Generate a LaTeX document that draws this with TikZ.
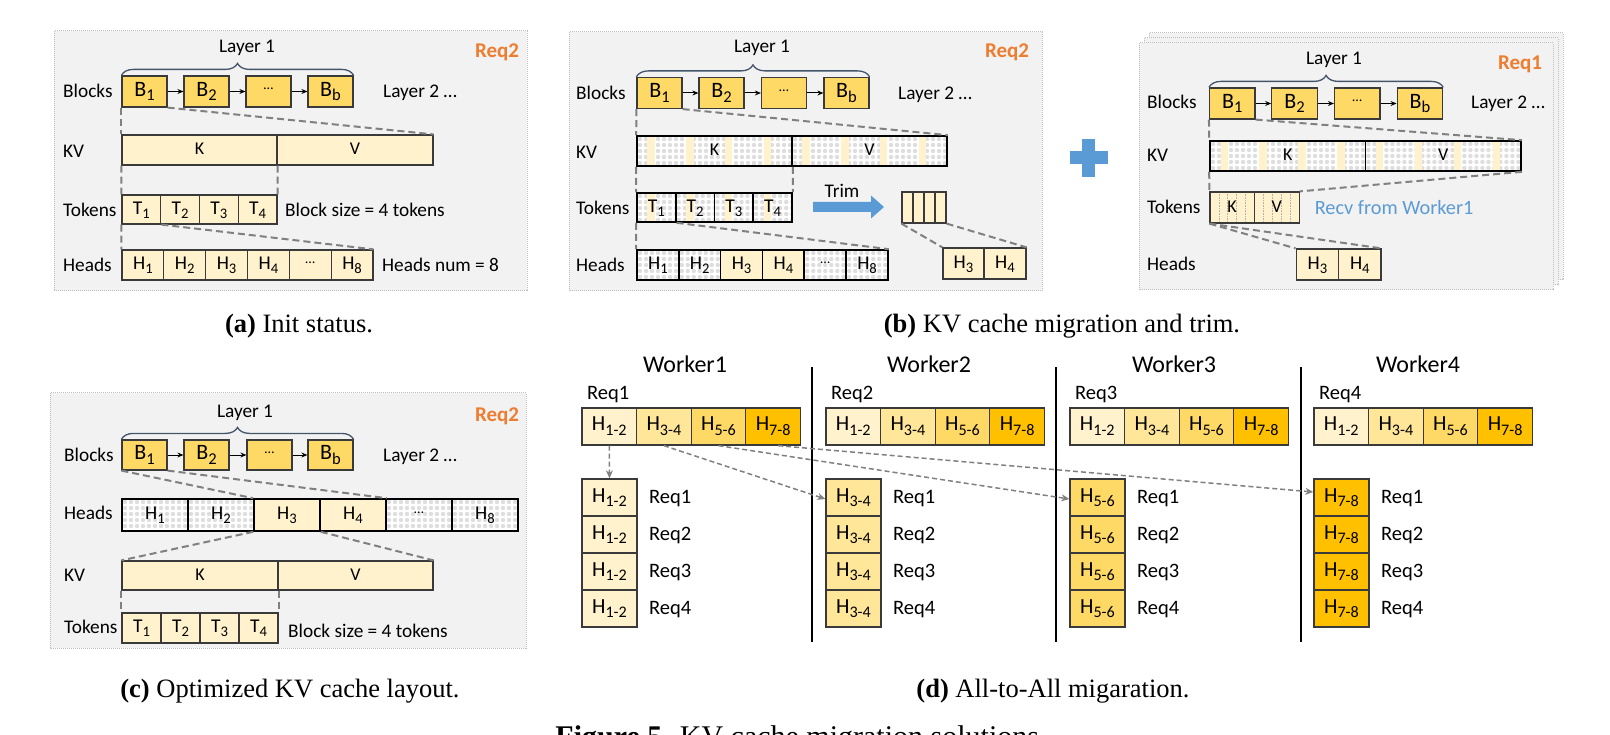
\documentclass[tikz,border=0pt]{standalone}
\usepackage{fontspec}
\setmainfont{Carlito}
\newfontfamily\capfont{Liberation Serif}
\usetikzlibrary{calc,decorations.pathreplacing,arrows.meta}
\definecolor{cpanel}{HTML}{F2F2F2}
\definecolor{cpanelln}{HTML}{BFBFBF}
\definecolor{cgold}{HTML}{FFD966}
\definecolor{clite}{HTML}{FFF2CC}
\definecolor{cmid}{HTML}{FFE699}
\definecolor{cdeep}{HTML}{FFC000}
\definecolor{ccellln}{HTML}{3A3A3A}
\definecolor{cdot}{HTML}{DEDEDE}
\definecolor{cdash}{HTML}{808080}
\definecolor{corange}{HTML}{ED7D31}
\definecolor{cbrace}{HTML}{44546A}
\definecolor{cblue}{HTML}{5B9BD5}
\newcommand\fL{\fontsize{19.3}{21}\selectfont}
\newcommand\fBk{\fontsize{22}{24}\selectfont}
\newcommand\fCl{\fontsize{19.5}{21}\selectfont}
\newcommand\fKV{\fontsize{18}{20}\selectfont}
\newcommand\fRq{\fontsize{21}{23}\selectfont\bfseries}
\newcommand\fWk{\fontsize{24}{26}\selectfont}
\newcommand\fDd{\fontsize{20.5}{22}\selectfont}
\newcommand\fDc{\fontsize{21.5}{23}\selectfont}
\newcommand\fCap{\capfont\fontsize{26.5}{30}\selectfont}
\newcommand\fFig{\capfont\fontsize{30}{34}\selectfont}
\makeatletter
\newcommand\sbx[1]{\raisebox{-0.2em}{\@tempdima=\f@size pt\@tempdima=0.75\@tempdima\fontsize{\strip@pt\@tempdima}{\strip@pt\@tempdima}\selectfont #1}}
\makeatother
\newcommand\dts{\raisebox{0.3em}{\fontsize{14}{15}\selectfont …}}
\begin{document}
\begin{tikzpicture}[x=1pt,y=-1pt,
  panel/.style={fill=cpanel,draw=cpanelln,densely dotted,line width=1pt},
  lbl/.style={anchor=west,inner sep=0pt,font=\fL,text height=0.644em,text depth=0pt,yshift=-3pt},
  toplbl/.style={inner sep=0pt,font=\fL,text height=0.644em,text depth=0pt,yshift=-3pt},
  reqlbl/.style={inner sep=0pt,font=\fRq,text=corange,text height=0.644em,text depth=0pt,yshift=-3pt},
  cellbase/.style={draw=ccellln,line width=1.2pt,inner sep=0pt,text height=0.95em,text depth=0pt,font=\fCl},
  goldcell/.style={cellbase,fill=cgold,font=\fBk,minimum width=45pt,minimum height=31pt},
  litecell/.style={cellbase,fill=clite},
  blkcell/.style={cellbase,draw=black,line width=1.6pt},
  patdots/.style={blkcell,fill=white,path picture={
    \foreach \i in {0,...,#1}{\foreach \j in {0,...,5}{
      \fill[cdot] ($(path picture bounding box.north west)+({3+\i*6},{3+\j*6})$) circle (2.2);}}}},
  patstripe/.style n args={3}{blkcell,fill=white,path picture={
    \foreach \i in {0,...,#1}{\foreach \j in {0,...,5}{
      \fill[cdot] ($(path picture bounding box.north west)+({3+\i*6},{3+\j*6})$) circle (2.2);}}
    \foreach \s in {1,...,#2}{
      \fill[clite] ($(path picture bounding box.north west)+({(\s-1)*#3+0.27*#3},0)$) rectangle ++({0.19*#3},40);}}},
  vlines/.style={path picture={\foreach \f in {0.2,0.4,0.6,0.8}{
      \draw[black!30,line width=0.6pt,densely dotted] ($(path picture bounding box.north west)!\f!(path picture bounding box.north east)$) -- ++(0,40);}}},
  conn/.style={draw=cdash,line width=2pt,dash pattern=on 7pt off 4pt},
  blkarrow/.style={draw=black,line width=1pt,-{Stealth[length=6pt,width=5pt]}},
  bracedeco/.style={draw=cbrace,line width=1.3pt,decorate,decoration={brace,amplitude=12pt}},
  darrow/.style={draw=cdash,line width=1.5pt,dash pattern=on 5pt off 3pt,-{Stealth[length=8pt,width=7pt]}},
  dcell/.style={draw=ccellln,line width=1.3pt,inner sep=0pt,font=\fDc,text height=0.9em,text depth=0pt,minimum height=37pt},
  dlbl/.style={anchor=west,inner sep=0pt,font=\fDd,text height=0.644em,text depth=0pt,yshift=-3pt},
  wlbl/.style={inner sep=0pt,font=\fWk,text height=0.644em,text depth=0pt,yshift=-3pt},
  caplbl/.style={anchor=base,inner sep=0pt,font=\fCap}
]
\useasboundingbox (0,0) rectangle (1610,735);

%%%%%%%%%%%%%%%% (a)
\draw[panel] (54,31) rectangle (527,291);
\node[reqlbl] (aReq) at (497,51) {Req2};
\node[toplbl] (aL1) at (247,46) {Layer 1};
\node[lbl] (aLb) at (63,91) {Blocks};
\node[goldcell] (aB1) at (144.5,91.5) {B\sbx{1}};
\node[goldcell] (aB2) at (206.5,91.5) {B\sbx{2}};
\node[goldcell] (aB3) at (268.5,91.5) {\dts};
\node[goldcell] (aB4) at (330.5,91.5) {B\sbx{b}};
\draw[blkarrow] (aB1) -- (aB2);
\draw[blkarrow] (aB2) -- (aB3);
\draw[blkarrow] (aB3) -- (aB4);
\draw[bracedeco] (aB1.north west) -- (aB4.north east);
\node[lbl] (aL2) at (383,91) {Layer 2 …};
\node[lbl] (aLkv) at (63,151) {KV};
\node[litecell,font=\fKV,minimum width=155pt,minimum height=30pt] (aK) at (199.5,150) {K};
\node[litecell,font=\fKV,minimum width=156pt,minimum height=30pt] (aV) at (355,150) {V};
\node[lbl] (aLt) at (63,210) {Tokens};
\node[litecell,minimum width=38.75pt,minimum height=29pt] (aT1) at (141.4,209.5) {T\sbx{1}};
\node[litecell,minimum width=38.75pt,minimum height=29pt] (aT2) at (180.1,209.5) {T\sbx{2}};
\node[litecell,minimum width=38.75pt,minimum height=29pt] (aT3) at (218.9,209.5) {T\sbx{3}};
\node[litecell,minimum width=38.75pt,minimum height=29pt] (aT4) at (257.6,209.5) {T\sbx{4}};
\node[lbl] (aBs) at (285,210) {Block size = 4 tokens};
\node[lbl] (aLh) at (63,265) {Heads};
\node[litecell,minimum width=41.83pt,minimum height=30pt] (aH1) at (142.9,265) {H\sbx{1}};
\node[litecell,minimum width=41.83pt,minimum height=30pt] (aH2) at (184.7,265) {H\sbx{2}};
\node[litecell,minimum width=41.83pt,minimum height=30pt] (aH3) at (226.6,265) {H\sbx{3}};
\node[litecell,minimum width=41.83pt,minimum height=30pt] (aH4) at (268.4,265) {H\sbx{4}};
\node[litecell,minimum width=41.83pt,minimum height=30pt] (aH5) at (310.2,265) {\dts};
\node[litecell,minimum width=41.83pt,minimum height=30pt] (aH6) at (352.1,265) {H\sbx{8}};
\node[lbl] (aHn) at (382,265) {Heads num = 8};
\draw[conn] (aB1.south west) -- (aK.north west);
\draw[conn] (aB1.south east) -- (aV.north east);
\draw[conn] (aK.south west) -- (aT1.north west);
\draw[conn] (aK.south east) -- (aT4.north east);
\draw[conn] (aT1.south west) -- (aH1.north west);
\draw[conn] (aT1.south east) -- (aH6.north east);

%%%%%%%%%%%%%%%% (b) left
\draw[panel] (569,32) rectangle (1042,291);
\node[reqlbl] (bReq) at (1007,51) {Req2};
\node[toplbl] (bL1) at (762,46) {Layer 1};
\node[lbl] (bLb) at (576,93) {Blocks};
\node[goldcell] (bB1) at (659.5,93) {B\sbx{1}};
\node[goldcell] (bB2) at (721.5,93) {B\sbx{2}};
\node[goldcell] (bB3) at (784,93) {\dts};
\node[goldcell] (bB4) at (846.5,93) {B\sbx{b}};
\draw[blkarrow] (bB1) -- (bB2);
\draw[blkarrow] (bB2) -- (bB3);
\draw[blkarrow] (bB3) -- (bB4);
\draw[bracedeco] (bB1.north west) -- (bB4.north east);
\node[lbl] (bL2) at (898,93) {Layer 2 …};
\node[lbl] (bLkv) at (576,152) {KV};
\node[patstripe={26}{4}{38.75},font=\fKV,minimum width=155pt,minimum height=30pt] (bK) at (714.5,151) {K};
\node[patstripe={26}{4}{38.75},font=\fKV,minimum width=155pt,minimum height=30pt] (bV) at (869.5,151) {V};
\node[lbl] (bLt) at (576,208) {Tokens};
\node[patstripe={7}{1}{38.75},minimum width=38.75pt,minimum height=29pt] (bT1) at (656.4,207.5) {T\sbx{1}};
\node[patstripe={7}{1}{38.75},minimum width=38.75pt,minimum height=29pt] (bT2) at (695.1,207.5) {T\sbx{2}};
\node[patstripe={7}{1}{38.75},minimum width=38.75pt,minimum height=29pt] (bT3) at (733.9,207.5) {T\sbx{3}};
\node[patstripe={7}{1}{38.75},minimum width=38.75pt,minimum height=29pt] (bT4) at (772.6,207.5) {T\sbx{4}};
\node[toplbl] (bTrim) at (842,191) {Trim};
\fill[cblue] (813,202) -- (871,202) -- (871,195.5) -- (884,207) -- (871,218.5) -- (871,212) -- (813,212) -- cycle;
\node[litecell,minimum width=11pt,minimum height=31pt] (bM1) at (907.5,207.5) {};
\node[litecell,minimum width=11pt,minimum height=31pt] (bM2) at (918.5,207.5) {};
\node[litecell,minimum width=11pt,minimum height=31pt] (bM3) at (929.5,207.5) {};
\node[litecell,minimum width=11pt,minimum height=31pt] (bM4) at (940.5,207.5) {};
\node[lbl] (bLh) at (576,265) {Heads};
\node[patdots=7,minimum width=41.83pt,minimum height=30pt] (bH1) at (657.9,265) {H\sbx{1}};
\node[patdots=7,minimum width=41.83pt,minimum height=30pt] (bH2) at (699.7,265) {H\sbx{2}};
\node[blkcell,fill=clite,minimum width=41.83pt,minimum height=30pt] (bH3) at (741.6,265) {H\sbx{3}};
\node[blkcell,fill=clite,minimum width=41.83pt,minimum height=30pt] (bH4) at (783.4,265) {H\sbx{4}};
\node[patdots=7,minimum width=41.83pt,minimum height=30pt] (bH5) at (825.2,265) {\dts};
\node[patdots=7,minimum width=41.83pt,minimum height=30pt] (bH6) at (867.1,265) {H\sbx{8}};
\node[litecell,minimum width=41pt,minimum height=31pt] (bs3) at (963.5,263.5) {H\sbx{3}};
\node[litecell,minimum width=42pt,minimum height=31pt] (bs4) at (1005,263.5) {H\sbx{4}};
\draw[conn] (bB1.south west) -- (bK.north west);
\draw[conn] (bB1.south east) -- (bV.north east);
\draw[conn] (bK.south west) -- (bT1.north west);
\draw[conn] (bK.south east) -- (bT4.north east);
\draw[conn] (bT1.south west) -- (bH1.north west);
\draw[conn] (bT1.south east) -- (bH6.north east);
\draw[conn] (bM1.south west) -- (bs3.north west);
\draw[conn] (bM4.south east) -- (bs4.north east);

%%%%%%%%%%%%%%%% plus
\fill[cblue] (1070,151.5) rectangle (1108,164.5);
\fill[cblue] (1082.4,139) rectangle (1095.4,177);

%%%%%%%%%%%%%%%% (b) right
\draw[panel] (1149,33) rectangle (1563,280);
\draw[panel] (1144,38) rectangle (1558,285);
\draw[panel] (1139,43) rectangle (1553,290);
\node[reqlbl] (rReq) at (1520,63) {Req1};
\node[toplbl] (rL1) at (1334,58) {Layer 1};
\node[lbl] (rLb) at (1147,102) {Blocks};
\node[goldcell,minimum width=45.5pt] (rB1) at (1232.3,103.5) {B\sbx{1}};
\node[goldcell,minimum width=45.5pt] (rB2) at (1294.5,103.5) {B\sbx{2}};
\node[goldcell,minimum width=45.5pt] (rB3) at (1357.3,103.5) {\dts};
\node[goldcell,minimum width=45.5pt] (rB4) at (1419.9,103.5) {B\sbx{b}};
\draw[blkarrow] (rB1) -- (rB2);
\draw[blkarrow] (rB2) -- (rB3);
\draw[blkarrow] (rB3) -- (rB4);
\draw[bracedeco] (rB1.north west) -- (rB4.north east);
\node[lbl] (rL2) at (1471,102) {Layer 2 …};
\node[lbl] (rLkv) at (1147,155) {KV};
\node[patstripe={26}{4}{38.9},font=\fKV,minimum width=155.4pt,minimum height=30pt] (rK) at (1287.7,156) {K};
\node[patstripe={26}{4}{38.9},font=\fKV,minimum width=155.8pt,minimum height=30pt] (rV) at (1443.3,156) {V};
\node[lbl] (rLt) at (1147,207) {Tokens};
\node[litecell,vlines,font=\fKV,minimum width=44.3pt,minimum height=31pt] (rTK) at (1232.1,207.5) {K};
\node[litecell,vlines,font=\fKV,minimum width=44.8pt,minimum height=31pt] (rTV) at (1276.7,207.5) {V};
\node[lbl,text=cblue,font=\fontsize{20.3}{22}\selectfont] (rRecv) at (1314.6,208) {Recv from Worker1};
\node[lbl] (rLh) at (1147,264) {Heads};
\node[litecell,minimum width=42.4pt,minimum height=31pt] (rH3) at (1317.4,264.5) {H\sbx{3}};
\node[litecell,minimum width=42.3pt,minimum height=31pt] (rH4) at (1359.8,264.5) {H\sbx{4}};
\draw[conn] (rB1.south west) -- (rK.north west);
\draw[conn] (rB1.south east) -- (rV.north east);
\draw[conn] (rK.south west) -- (rTK.north west);
\draw[conn] (rV.south east) -- (rTV.north east);
\draw[conn] (rTK.south west) -- (rH3.north west);
\draw[conn] (rTK.south west) -- (rH4.north east);

%%%%%%%%%%%%%%%% (c)
\draw[panel] (50,393) rectangle (526,648);
\node[reqlbl] (cReq) at (497,415) {Req2};
\node[toplbl] (cL1) at (245,411) {Layer 1};
\node[lbl] (cLb) at (64,455) {Blocks};
\node[goldcell,minimum height=30pt] (cB1) at (144.5,455) {B\sbx{1}};
\node[goldcell,minimum height=30pt] (cB2) at (206.5,455) {B\sbx{2}};
\node[goldcell,minimum height=30pt] (cB3) at (269.5,455) {\dts};
\node[goldcell,minimum height=30pt] (cB4) at (330.5,455) {B\sbx{b}};
\draw[blkarrow] (cB1) -- (cB2);
\draw[blkarrow] (cB2) -- (cB3);
\draw[blkarrow] (cB3) -- (cB4);
\draw[bracedeco] (cB1.north west) -- (cB4.north east);
\node[lbl] (cL2) at (383,455) {Layer 2 …};
\node[lbl] (cLh) at (64,513) {Heads};
\node[patdots=11,minimum width=66pt,minimum height=32pt] (cH1) at (155,515) {H\sbx{1}};
\node[patdots=11,minimum width=66pt,minimum height=32pt] (cH2) at (221,515) {H\sbx{2}};
\node[blkcell,fill=clite,minimum width=66pt,minimum height=32pt] (cH3) at (287,515) {H\sbx{3}};
\node[blkcell,fill=clite,minimum width=66pt,minimum height=32pt] (cH4) at (353,515) {H\sbx{4}};
\node[patdots=11,minimum width=66pt,minimum height=32pt] (cH5) at (419,515) {\dts};
\node[patdots=11,minimum width=66pt,minimum height=32pt] (cH6) at (485,515) {H\sbx{8}};
\node[lbl] (cLkv) at (64,575) {KV};
\node[litecell,font=\fKV,minimum width=156pt,minimum height=29pt] (cK) at (200,575.5) {K};
\node[litecell,font=\fKV,minimum width=155pt,minimum height=29pt] (cV) at (355.5,575.5) {V};
\node[lbl] (cLt) at (64,627) {Tokens};
\node[litecell,minimum width=39pt,minimum height=30pt] (cT1) at (141.5,628) {T\sbx{1}};
\node[litecell,minimum width=39pt,minimum height=30pt] (cT2) at (180.5,628) {T\sbx{2}};
\node[litecell,minimum width=39pt,minimum height=30pt] (cT3) at (219.5,628) {T\sbx{3}};
\node[litecell,minimum width=39pt,minimum height=30pt] (cT4) at (258.5,628) {T\sbx{4}};
\node[lbl] (cBs) at (288,631) {Block size = 4 tokens};
\draw[conn] (cB1.south west) -- (cH3.north west);
\draw[conn] (cB1.south east) -- (cH4.north east);
\draw[conn] (cH3.south west) -- (cK.north west);
\draw[conn] (cH3.south east) -- (cV.north east);
\draw[conn] (cK.south west) -- (cT1.north west);
\draw[conn] (cK.south east) -- (cT4.north east);

%%%%%%%%%%%%%%%% (d)
\draw[line width=2pt] (812,367) -- (812,642);
\draw[line width=2pt] (1056,367) -- (1056,642);
\draw[line width=2pt] (1301,367) -- (1301,642);
\foreach \w/\xo/\wc/\ccol/\hl in {1/582/685/clite/1-2, 2/826/929/cmid/3-4, 3/1070/1174/cgold/5-6, 4/1314/1418/cdeep/7-8}{
  \node[wlbl] (dW\w) at (\wc,366) {Worker\w};
  \node[dlbl] (dR\w) at (\xo+5,393) {Req\w};
  \node[dcell,fill=clite,minimum width=54.6pt] (d\w-r1) at (\xo+27.3,426.5) {H\sbx{1-2}};
  \node[dcell,fill=cmid,minimum width=54.6pt] (d\w-r2) at (\xo+81.9,426.5) {H\sbx{3-4}};
  \node[dcell,fill=cgold,minimum width=54.6pt] (d\w-r3) at (\xo+136.5,426.5) {H\sbx{5-6}};
  \node[dcell,fill=cdeep,minimum width=54.6pt] (d\w-r4) at (\xo+191.1,426.5) {H\sbx{7-8}};
  \foreach \k in {1,...,4}{
    \node[dcell,fill=\ccol,minimum width=55pt] (d\w-c\k) at (\xo+27.5,460.5+37*\k) {H\sbx{\hl}};
    \node[dlbl] (d\w-q\k) at (\xo+67,460.5+37*\k) {Req\k};
  }
}
\draw[darrow] (d1-r1.south) -- (d1-c1.north);
\draw[darrow] (d1-r2.south) -- ([yshift=-1.5pt]d2-c1.west);
\draw[darrow] (d1-r3.south) -- ([yshift=-1.5pt]d3-c1.west);
\draw[darrow] ([xshift=5pt]d1-r4.south) -- ([yshift=5.5pt]d4-c1.west);

%%%%%%%%%%%%%%%% captions
\node[caplbl] (capa) at (299,333) {\textbf{(a)} Init status.};
\node[caplbl] (capb) at (1062,333) {\textbf{(b)} KV cache migration and trim.};
\node[caplbl] (capc) at (290,697) {\textbf{(c)} Optimized KV cache layout.};
\node[caplbl] (capd) at (1053,697) {\textbf{(d)} All-to-All migaration.};
\node[caplbl,font=\fFig] (capf) at (801,746) {\textbf{Figure 5.} KV cache migration solutions.};
\end{tikzpicture}
\end{document}
